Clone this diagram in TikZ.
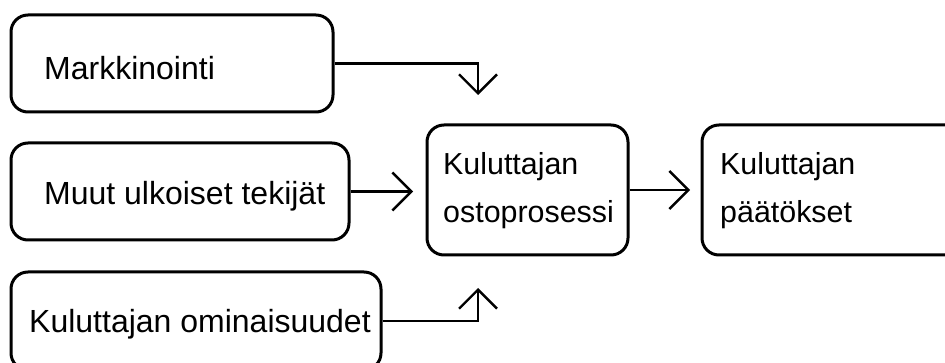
\documentclass[tikz,border=0pt]{standalone}
\usepackage{fontspec}
\setmainfont{Liberation Sans}
\usetikzlibrary{arrows.meta}
\begin{document}
\begin{tikzpicture}[x=1pt,y=-1pt,
  box/.style={draw, line width=3pt, rounded corners=17pt, inner sep=0pt},
  lbl/.style={anchor=base west, inner sep=0pt, font=\fontsize{32}{40}\selectfont},
  lbl2/.style={anchor=base west, inner sep=0pt, align=left, font=\fontsize{30.4}{48}\selectfont},
  arr/.style={line width=2.4pt, -{Straight Barb[length=19pt,width=38pt,line width=2.4pt]}}]
\useasboundingbox (0,0) rectangle (945,363);
\clip (0,0) rectangle (945,363);
% input boxes
\node[box, minimum width=322pt, minimum height=97pt] (mk) at (172,63.5) {};
\node[box, minimum width=338pt, minimum height=97pt] (mu) at (180,191.5) {};
\node[box, minimum width=370pt, minimum height=98pt] (om) at (196,321) {};
% process and result boxes
\node[box, minimum width=201pt, minimum height=130pt] (op) at (527.5,190) {};
\node[box, minimum width=300pt, minimum height=130pt] (pa) at (852,190) {};
% texts
\node[lbl] (tmk) at (44,80) {Markkinointi};
\node[lbl] (tmu) at (44,205) {Muut ulkoiset tekijät};
\node[lbl] (tom) at (29,333) {Kuluttajan ominaisuudet};
\node[lbl2] (top) at (443,223) {Kuluttajan\\ostoprosessi};
\node[lbl2] (tpa) at (720,223) {Kuluttajan\\päätökset};
% arrow ends
\coordinate (mkend) at (478,95);
\coordinate (muend) at (413,191.5);
\coordinate (omend) at (478,288);
\coordinate (opend) at (690,190);
% connectors
\draw[arr] (mk.east) -| (mkend);
\draw[arr] (mu.east) -- (muend);
\draw[arr] (om.east) -| (omend);
\draw[arr] (op.east) -- (opend);
\end{tikzpicture}
\end{document}
